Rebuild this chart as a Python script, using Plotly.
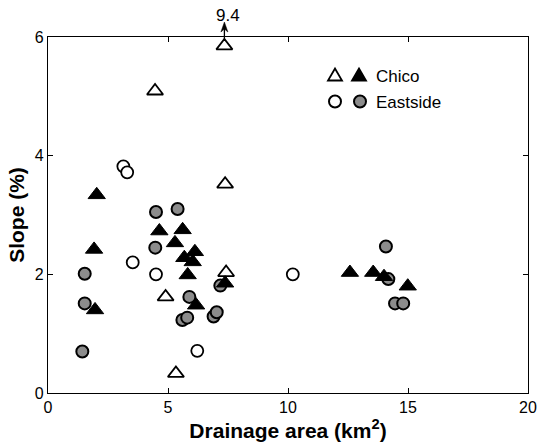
import plotly.graph_objects as go

# Chico, open triangles
chico_open_x = [7.35, 4.46, 7.38, 7.42, 4.9, 5.33]
chico_open_y = [5.85, 5.09, 3.52, 2.03, 1.62, 0.33]
chico_top_value = "9.4"

# Chico, filled triangles
chico_fill_x = [2.03, 1.92, 1.96, 4.64, 5.61, 5.29, 5.68, 6.12, 6.03, 5.82, 6.17, 7.38,
                12.58, 13.55, 14.0, 14.99]
chico_fill_y = [3.34, 2.42, 1.40, 2.73, 2.75, 2.53, 2.28, 2.38, 2.21, 1.99, 1.48, 1.85,
                2.03, 2.03, 1.96, 1.80]

# Eastside, open circles
east_open_x = [3.14, 3.30, 3.53, 4.50, 6.22, 10.2]
east_open_y = [3.82, 3.72, 2.20, 2.00, 0.71, 2.00]

# Eastside, gray circles
east_fill_x = [4.50, 5.40, 1.53, 1.53, 1.43, 4.47, 5.89, 5.60, 5.80, 6.90, 7.03, 7.18,
               14.08, 14.18, 14.46, 14.80]
east_fill_y = [3.05, 3.10, 2.01, 1.51, 0.70, 2.45, 1.62, 1.23, 1.27, 1.29, 1.36, 1.81,
               2.47, 1.92, 1.51, 1.51]

x_ticks = [0, 5, 10, 15, 20]
y_ticks = [0, 2, 4, 6]

GRAY = "#8c8c8c"
FONT = "Liberation Sans, Arial, sans-serif"

fig = go.Figure()
fig.add_trace(go.Scatter(x=chico_open_x, y=chico_open_y, mode="markers",
                         marker=dict(symbol="triangle-up", size=14, color="white",
                                     line=dict(color="black", width=1.8)),
                         showlegend=False, cliponaxis=False))
fig.add_trace(go.Scatter(x=east_open_x, y=east_open_y, mode="markers",
                         marker=dict(symbol="circle", size=12, color="white",
                                     line=dict(color="black", width=1.8)),
                         showlegend=False))
fig.add_trace(go.Scatter(x=east_fill_x, y=east_fill_y, mode="markers",
                         marker=dict(symbol="circle", size=12, color=GRAY,
                                     line=dict(color="black", width=2)),
                         showlegend=False))
fig.add_trace(go.Scatter(x=chico_fill_x, y=chico_fill_y, mode="markers",
                         marker=dict(symbol="triangle-up", size=15, color="black",
                                     line=dict(color="black", width=1)),
                         showlegend=False))

L, T, W, H = 48, 37, 480, 356
def px(xp):
    return (xp - L) / W
def py(yp):
    return 1 - (yp - T) / H

# arrow indicating off-scale value
fig.add_shape(type="line", xref="x", yref="paper", x0=chico_open_x[0], x1=chico_open_x[0],
              y0=py(41), y1=py(27), line=dict(color="black", width=1.3))
fig.add_shape(type="path", xref="x", yref="paper", xsizemode="pixel", ysizemode="pixel",
              xanchor=chico_open_x[0], yanchor=py(22),
              path="M -3.5 -10 L 0 0 L 3.5 -10 L 0 -7 Z",
              fillcolor="black", line=dict(color="black", width=0.5))
fig.add_annotation(x=chico_open_x[0] + 0.15, y=py(15.5), xref="x", yref="paper",
                   yanchor="middle", showarrow=False, text=chico_top_value,
                   font=dict(family=FONT, size=17, color="black"))

# custom legend: two symbols per row
def tri(cx, cy, fill):
    return dict(type="path", xref="paper", yref="paper", xsizemode="pixel", ysizemode="pixel",
                xanchor=cx, yanchor=cy,
                path="M -7 -5.5 L 7 -5.5 L 0 6.5 Z",
                fillcolor=fill, line=dict(color="black", width=1.8))

def circ(cx, cy, fill):
    return dict(type="circle", xref="paper", yref="paper", xsizemode="pixel", ysizemode="pixel",
                xanchor=cx, yanchor=cy, x0=-6, x1=6, y0=-6, y1=6,
                fillcolor=fill, line=dict(color="black", width=2))

fig.add_shape(**tri(px(335), py(75), "white"))
fig.add_shape(**tri(px(359), py(75), "black"))
fig.add_shape(**circ(px(335), py(101.5), "white"))
fig.add_shape(**circ(px(360), py(101.5), GRAY))
fig.add_annotation(x=px(374), y=py(76), xref="paper", yref="paper", xanchor="left",
                   yanchor="middle", showarrow=False, text="Chico",
                   font=dict(family=FONT, size=17, color="black"))
fig.add_annotation(x=px(374), y=py(102), xref="paper", yref="paper", xanchor="left",
                   yanchor="middle", showarrow=False, text="Eastside",
                   font=dict(family=FONT, size=17, color="black"))

axis_common = dict(showgrid=False, zeroline=False, showline=True, linecolor="black",
                   linewidth=1.3, mirror="allticks", ticks="inside", ticklen=5,
                   tickwidth=1, tickcolor="black", automargin=False,
                   tickfont=dict(family=FONT, size=16, color="black"))

fig.update_xaxes(range=[0, 20], tickvals=x_ticks, ticktext=[str(v) for v in x_ticks],
                 title=dict(text="<b>Drainage area (km<sup>2</sup>)</b>", standoff=6,
                            font=dict(family=FONT, size=21, color="black")),
                 **axis_common)
fig.update_yaxes(range=[0, 6], tickvals=y_ticks, ticktext=[str(v) for v in y_ticks],
                 title=dict(text="<b>Slope (%)</b>", standoff=4,
                            font=dict(family=FONT, size=21, color="black")),
                 **axis_common)

fig.update_layout(width=537, height=447, margin=dict(l=L, r=537 - L - W, t=T, b=447 - T - H),
                  plot_bgcolor="white", paper_bgcolor="white", showlegend=False)

fig.write_html("out.html")
